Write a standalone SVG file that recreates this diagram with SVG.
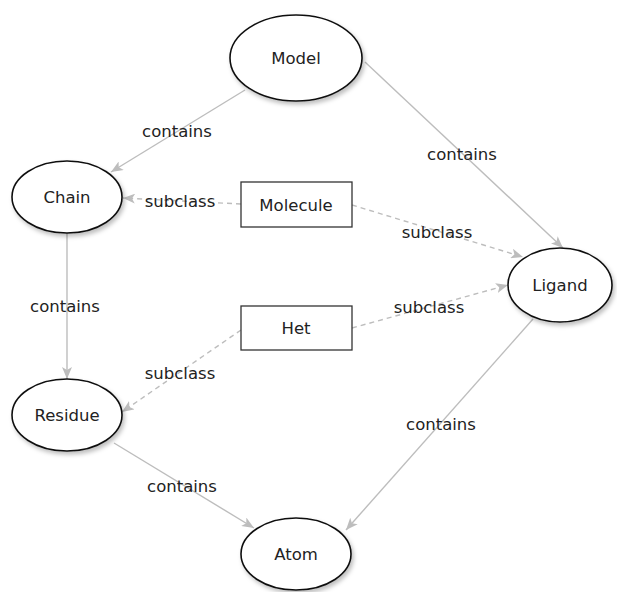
<svg xmlns="http://www.w3.org/2000/svg" width="617" height="592" viewBox="0 0 617 592">
<style>
text{font-family:"DejaVu Sans","Verdana",sans-serif;font-size:16.5px;fill:#222;text-anchor:middle}
.node ellipse{fill:#fff;stroke:#111;stroke-width:1.6;filter:url(#sh)}
.node rect{fill:#fff;stroke:#333;stroke-width:1.3}
.e{fill:none;stroke:#bdbdbd;stroke-width:1.4;marker-end:url(#arr)}
.d{stroke-dasharray:5 4}
</style>
<defs>
<filter id="sh" x="-20%" y="-20%" width="150%" height="150%">
<feDropShadow dx="2" dy="3" stdDeviation="2" flood-color="#000" flood-opacity="0.25"/>
</filter>
<marker id="arr" viewBox="0 0 12 10" refX="12" refY="5" markerWidth="12" markerHeight="10" markerUnits="userSpaceOnUse" orient="auto">
<path d="M0,0 L12,5 L0,10 L3,5 Z" fill="#bdbdbd"/>
</marker>
</defs>
<g id="connectors">
<line class="e" x1="245" y1="90" x2="111" y2="172"/>
<line class="e" x1="365" y1="62" x2="563" y2="248"/>
<line class="e" x1="67" y1="233" x2="67" y2="379"/>
<line class="e d" x1="241" y1="204" x2="123" y2="198"/>
<line class="e d" x1="352" y1="205" x2="523" y2="257"/>
<line class="e d" x1="352" y1="328" x2="508" y2="285"/>
<line class="e d" x1="241" y1="330" x2="122" y2="412"/>
<line class="e" x1="114" y1="443" x2="254" y2="528"/>
<line class="e" x1="533" y1="319" x2="346" y2="530"/>
<text x="177" y="137">contains</text>
<text x="462" y="160">contains</text>
<text x="180" y="207">subclass</text>
<text x="437" y="238">subclass</text>
<text x="429" y="313">subclass</text>
<text x="65" y="312">contains</text>
<text x="180" y="379">subclass</text>
<text x="182" y="492">contains</text>
<text x="441" y="430">contains</text>
</g>
<g id="model" class="node"><ellipse cx="296" cy="58" rx="66" ry="43"/><text x="296" y="64">Model</text></g>
<g id="chain" class="node"><ellipse cx="67" cy="197" rx="55" ry="36"/><text x="67" y="203">Chain</text></g>
<g id="molecule" class="node"><rect x="241" y="182" width="111" height="45"/><text x="296" y="211">Molecule</text></g>
<g id="ligand" class="node"><ellipse cx="560" cy="285" rx="52" ry="37"/><text x="560" y="291">Ligand</text></g>
<g id="het" class="node"><rect x="241" y="306" width="111" height="44"/><text x="296" y="334">Het</text></g>
<g id="residue" class="node"><ellipse cx="67" cy="415" rx="55" ry="36"/><text x="67" y="421">Residue</text></g>
<g id="atom" class="node"><ellipse cx="296" cy="554" rx="55" ry="36"/><text x="296" y="560">Atom</text></g>
</svg>
